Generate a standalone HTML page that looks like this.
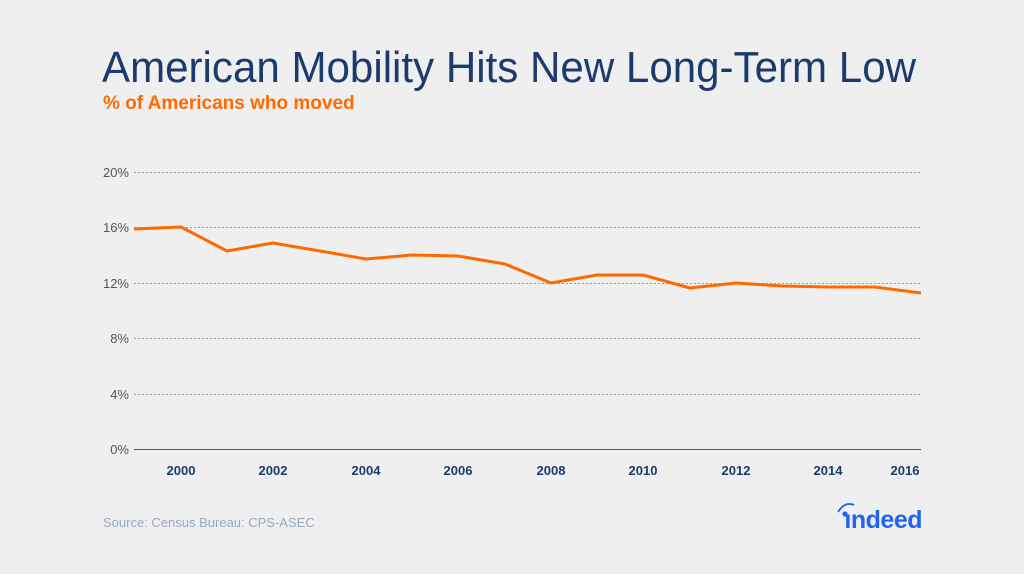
<!DOCTYPE html>
<html><head><meta charset="utf-8"><style>
body{margin:0;width:1024px;height:574px;background:#efefef;overflow:hidden;font-family:"Liberation Sans",sans-serif}
</style></head><body>
<svg width="1024" height="574" xmlns="http://www.w3.org/2000/svg" style="position:absolute;left:0;top:0">
<text x="102" y="82" font-size="44" fill="#1d3a6e" font-family="Liberation Sans, sans-serif" textLength="814" lengthAdjust="spacingAndGlyphs">American Mobility Hits New Long-Term Low</text>
<text x="103" y="109" font-size="19" font-weight="bold" fill="#ff6a00" font-family="Liberation Sans, sans-serif">% of Americans who moved</text>
<g stroke="#999" stroke-width="1" stroke-dasharray="2,2">
<line x1="134" x2="921" y1="172.5" y2="172.5"/>
<line x1="134" x2="921" y1="227.5" y2="227.5"/>
<line x1="134" x2="921" y1="283.5" y2="283.5"/>
<line x1="134" x2="921" y1="338.5" y2="338.5"/>
<line x1="134" x2="921" y1="394.5" y2="394.5"/>
</g>
<line x1="134" x2="921" y1="449.5" y2="449.5" stroke="#555" stroke-width="1"/>
<g font-size="13" fill="#555" text-anchor="end" font-family="Liberation Sans, sans-serif">
<text x="129" y="177">20%</text><text x="129" y="232">16%</text><text x="129" y="288">12%</text>
<text x="129" y="343">8%</text><text x="129" y="399">4%</text><text x="129" y="454">0%</text>
</g>
<g font-size="13" font-weight="bold" fill="#1d3a6e" text-anchor="middle" font-family="Liberation Sans, sans-serif">
<text x="181" y="475">2000</text><text x="273" y="475">2002</text><text x="366" y="475">2004</text>
<text x="458" y="475">2006</text><text x="551" y="475">2008</text><text x="643" y="475">2010</text>
<text x="736" y="475">2012</text><text x="828" y="475">2014</text><text x="905" y="475">2016</text>
</g>
<polyline fill="none" stroke="#ff6a00" stroke-width="3" stroke-linejoin="round"
points="134,229 181,227 227,251 273,243 320,251 366,259 412,255 458,256 505,264 551,283 597,275 643,275 690,288 736,283 782,286 828,287 875,287 921,293"/>
<text x="103" y="527" font-size="13" fill="#9aa8bb" font-family="Liberation Sans, sans-serif">Source: Census Bureau: CPS-ASEC</text>
<text x="922" y="528" font-size="25" font-weight="bold" fill="#2164f3" text-anchor="end" font-family="Liberation Sans, sans-serif" letter-spacing="-0.5">ındeed</text>
<circle cx="845" cy="514" r="2.6" fill="#2164f3"/>
<path d="M838,512 Q845,501 854,505" fill="none" stroke="#2164f3" stroke-width="1.8"/>
</svg>
</body></html>
